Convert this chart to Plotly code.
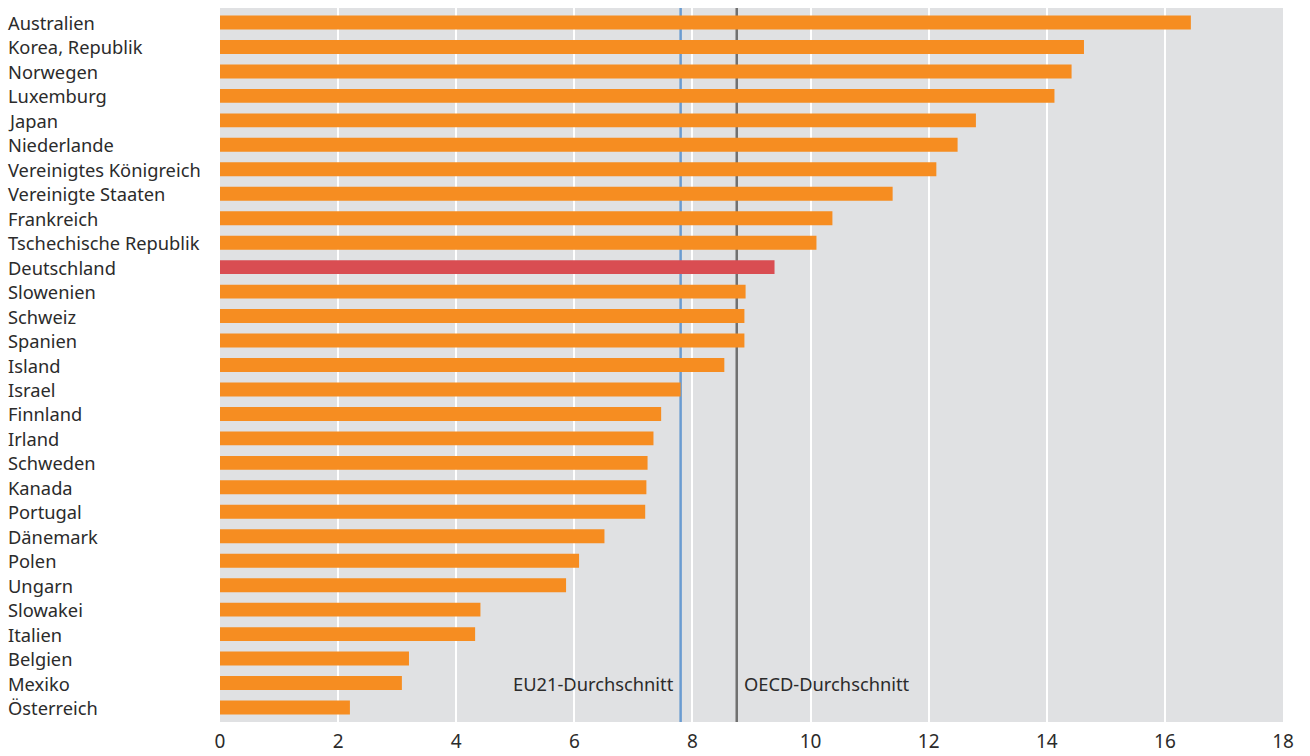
import plotly.graph_objects as go

countries = [
    "Australien", "Korea, Republik", "Norwegen", "Luxemburg", "Japan",
    "Niederlande", "Vereinigtes Königreich", "Vereinigte Staaten", "Frankreich",
    "Tschechische Republik", "Deutschland", "Slowenien", "Schweiz", "Spanien",
    "Island", "Israel", "Finnland", "Irland", "Schweden", "Kanada", "Portugal",
    "Dänemark", "Polen", "Ungarn", "Slowakei", "Italien", "Belgien", "Mexiko",
    "Österreich",
]
values = [
    16.44, 14.63, 14.42, 14.13, 12.8, 12.49, 12.13, 11.39, 10.37, 10.1, 9.39,
    8.9, 8.88, 8.88, 8.54, 7.8, 7.47, 7.34, 7.24, 7.22, 7.2, 6.51, 6.08, 5.86,
    4.41, 4.32, 3.2, 3.08, 2.2,
]
highlight = "Deutschland"
eu21_avg = 7.8
oecd_avg = 8.75
avg_labels = ["EU21-Durchschnitt", "OECD-Durchschnitt"]
x_ticks = [0, 2, 4, 6, 8, 10, 12, 14, 16, 18]

ORANGE = "#f68d21"
RED = "#d94d52"
BLUE = "#6a9bd1"
GREY = "#707070"
TEXT = "#2b2b2b"
FONT = "Noto Sans"
FS = 18.3

colors = [RED if c == highlight else ORANGE for c in countries]

fig = go.Figure(
    go.Bar(
        x=values,
        y=countries,
        orientation="h",
        marker=dict(color=colors, line=dict(width=0)),
        width=0.57,
        hoverinfo="x+y",
    )
)

# average lines
for val, col in [(eu21_avg, BLUE), (oecd_avg, GREY)]:
    fig.add_shape(
        type="line", xref="x", yref="paper", x0=val, x1=val, y0=0, y1=1,
        line=dict(color=col, width=2.5), layer="below",
    )

fig.add_annotation(
    x=eu21_avg, y=countries[-2], xref="x", yref="y", text=avg_labels[0],
    showarrow=False, xanchor="right", xshift=-5,
    font=dict(family=FONT, size=FS, color=TEXT),
)
fig.add_annotation(
    x=oecd_avg, y=countries[-2], xref="x", yref="y", text=avg_labels[1],
    showarrow=False, xanchor="left", xshift=5,
    font=dict(family=FONT, size=FS, color=TEXT),
)

# left-aligned country labels
for c in countries:
    fig.add_annotation(
        x=-0.2014, y=c, xref="paper", yref="y", text=c, showarrow=False,
        xanchor="left", font=dict(family=FONT, size=FS, color=TEXT),
    )

fig.update_layout(
    width=1310,
    height=756,
    margin=dict(l=220, r=27, t=8, b=34),
    paper_bgcolor="white",
    plot_bgcolor="#e0e1e3",
    showlegend=False,
    bargap=0.43,
    font=dict(family=FONT, size=FS, color=TEXT),
    xaxis=dict(
        range=[0, 18],
        tickvals=x_ticks,
        ticktext=[str(t) for t in x_ticks],
        showgrid=True,
        gridcolor="white",
        gridwidth=2,
        zeroline=False,
        showline=False,
        ticks="",
        automargin=False,
        ticklabelstandoff=6,
        tickfont=dict(family=FONT, size=19, color=TEXT),
        fixedrange=True,
    ),
    yaxis=dict(
        categoryorder="array",
        categoryarray=countries,
        autorange="reversed",
        showticklabels=False,
        showgrid=False,
        zeroline=False,
        ticks="",
        automargin=False,
        fixedrange=True,
    ),
)

fig.write_html("out.html")
